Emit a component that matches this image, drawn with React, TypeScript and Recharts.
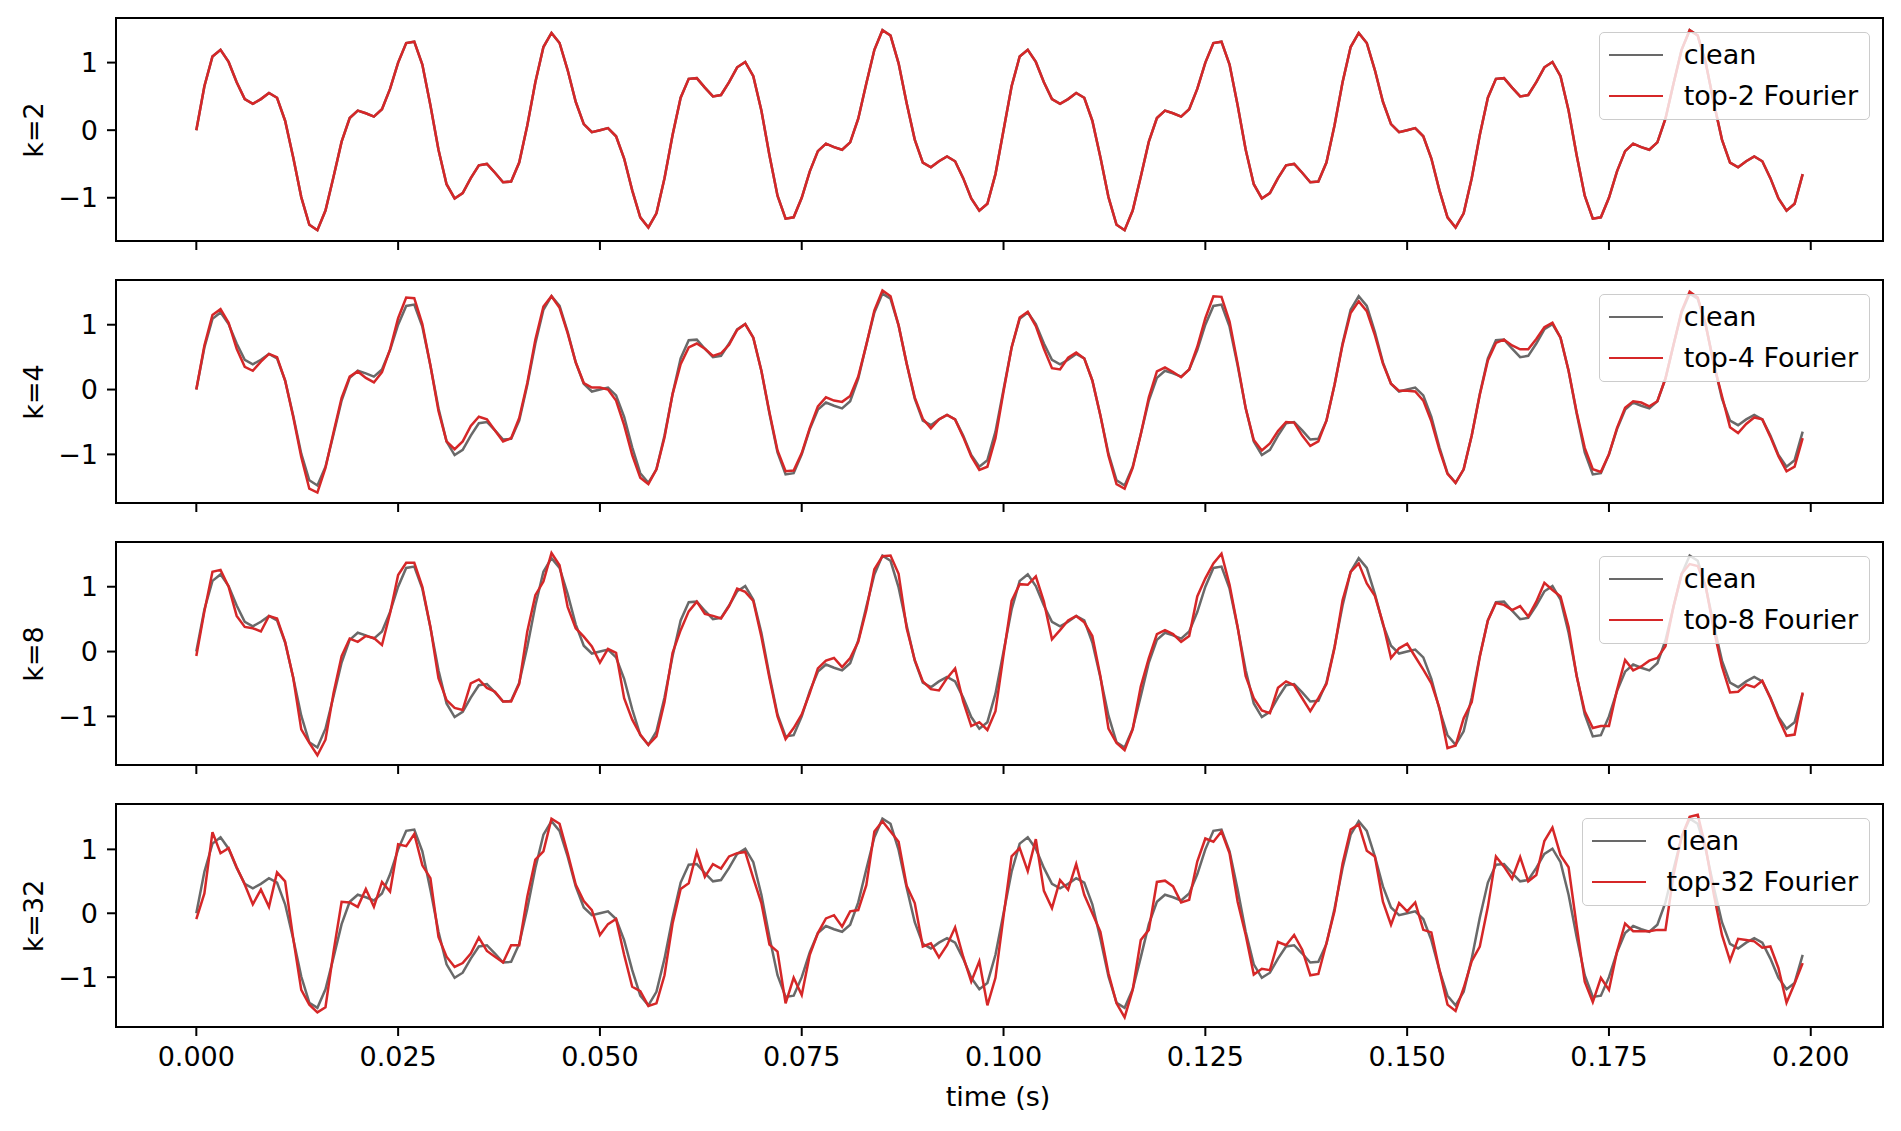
import { LineChart, Line, XAxis, YAxis } from "recharts";

// sample times (s)
const time = [
  0.000, 0.001, 0.002, 0.003, 0.004, 0.005, 0.006, 0.007, 0.008, 0.009,
  0.010, 0.011, 0.012, 0.013, 0.014, 0.015, 0.016, 0.017, 0.018, 0.019,
  0.020, 0.021, 0.022, 0.023, 0.024, 0.025, 0.026, 0.027, 0.028, 0.029,
  0.030, 0.031, 0.032, 0.033, 0.034, 0.035, 0.036, 0.037, 0.038, 0.039,
  0.040, 0.041, 0.042, 0.043, 0.044, 0.045, 0.046, 0.047, 0.048, 0.049,
  0.050, 0.051, 0.052, 0.053, 0.054, 0.055, 0.056, 0.057, 0.058, 0.059,
  0.060, 0.061, 0.062, 0.063, 0.064, 0.065, 0.066, 0.067, 0.068, 0.069,
  0.070, 0.071, 0.072, 0.073, 0.074, 0.075, 0.076, 0.077, 0.078, 0.079,
  0.080, 0.081, 0.082, 0.083, 0.084, 0.085, 0.086, 0.087, 0.088, 0.089,
  0.090, 0.091, 0.092, 0.093, 0.094, 0.095, 0.096, 0.097, 0.098, 0.099,
  0.100, 0.101, 0.102, 0.103, 0.104, 0.105, 0.106, 0.107, 0.108, 0.109,
  0.110, 0.111, 0.112, 0.113, 0.114, 0.115, 0.116, 0.117, 0.118, 0.119,
  0.120, 0.121, 0.122, 0.123, 0.124, 0.125, 0.126, 0.127, 0.128, 0.129,
  0.130, 0.131, 0.132, 0.133, 0.134, 0.135, 0.136, 0.137, 0.138, 0.139,
  0.140, 0.141, 0.142, 0.143, 0.144, 0.145, 0.146, 0.147, 0.148, 0.149,
  0.150, 0.151, 0.152, 0.153, 0.154, 0.155, 0.156, 0.157, 0.158, 0.159,
  0.160, 0.161, 0.162, 0.163, 0.164, 0.165, 0.166, 0.167, 0.168, 0.169,
  0.170, 0.171, 0.172, 0.173, 0.174, 0.175, 0.176, 0.177, 0.178, 0.179,
  0.180, 0.181, 0.182, 0.183, 0.184, 0.185, 0.186, 0.187, 0.188, 0.189,
  0.190, 0.191, 0.192, 0.193, 0.194, 0.195, 0.196, 0.197, 0.198, 0.199,
];

const clean = [
  0.00, 0.65, 1.09, 1.19, 1.01, 0.71, 0.46, 0.39, 0.46, 0.55,
  0.48, 0.14, -0.40, -0.99, -1.40, -1.48, -1.19, -0.69, -0.17, 0.18,
  0.29, 0.25, 0.20, 0.31, 0.61, 1.00, 1.29, 1.31, 0.97, 0.37,
  -0.29, -0.80, -1.01, -0.93, -0.71, -0.52, -0.50, -0.63, -0.77, -0.76,
  -0.48, 0.07, 0.71, 1.23, 1.44, 1.29, 0.89, 0.42, 0.09, -0.03,
  0.00, 0.03, -0.09, -0.42, -0.89, -1.29, -1.44, -1.23, -0.71, -0.07,
  0.48, 0.76, 0.77, 0.63, 0.50, 0.52, 0.71, 0.93, 1.01, 0.80,
  0.29, -0.37, -0.97, -1.31, -1.29, -1.00, -0.61, -0.31, -0.20, -0.25,
  -0.29, -0.18, 0.17, 0.69, 1.19, 1.48, 1.40, 0.99, 0.40, -0.14,
  -0.48, -0.55, -0.46, -0.39, -0.46, -0.71, -1.01, -1.19, -1.09, -0.65,
  0.00, 0.65, 1.09, 1.19, 1.01, 0.71, 0.46, 0.39, 0.46, 0.55,
  0.48, 0.14, -0.40, -0.99, -1.40, -1.48, -1.19, -0.69, -0.17, 0.18,
  0.29, 0.25, 0.20, 0.31, 0.61, 1.00, 1.29, 1.31, 0.97, 0.37,
  -0.29, -0.80, -1.01, -0.93, -0.71, -0.52, -0.50, -0.63, -0.77, -0.76,
  -0.48, 0.07, 0.71, 1.23, 1.44, 1.29, 0.89, 0.42, 0.09, -0.03,
  0.00, 0.03, -0.09, -0.42, -0.89, -1.29, -1.44, -1.23, -0.71, -0.07,
  0.48, 0.76, 0.77, 0.63, 0.50, 0.52, 0.71, 0.93, 1.01, 0.80,
  0.29, -0.37, -0.97, -1.31, -1.29, -1.00, -0.61, -0.31, -0.20, -0.25,
  -0.29, -0.18, 0.17, 0.69, 1.19, 1.48, 1.40, 0.99, 0.40, -0.14,
  -0.48, -0.55, -0.46, -0.39, -0.46, -0.71, -1.01, -1.19, -1.09, -0.65,
];

// top-2 reconstruction sits on the clean curve at this resolution
const top2 = clean;

const top4 = [
  0.00, 0.68, 1.15, 1.24, 1.03, 0.63, 0.35, 0.29, 0.43, 0.55,
  0.50, 0.14, -0.42, -1.04, -1.53, -1.59, -1.21, -0.66, -0.13, 0.20,
  0.28, 0.18, 0.11, 0.27, 0.62, 1.10, 1.42, 1.41, 1.01, 0.37,
  -0.33, -0.80, -0.92, -0.80, -0.56, -0.42, -0.46, -0.63, -0.80, -0.75,
  -0.44, 0.10, 0.77, 1.28, 1.44, 1.26, 0.87, 0.42, 0.10, 0.03,
  0.03, 0.00, -0.17, -0.55, -1.01, -1.36, -1.46, -1.23, -0.74, -0.07,
  0.39, 0.65, 0.71, 0.63, 0.52, 0.56, 0.69, 0.92, 1.01, 0.80,
  0.29, -0.35, -0.94, -1.26, -1.25, -0.98, -0.59, -0.26, -0.12, -0.17,
  -0.19, -0.10, 0.20, 0.69, 1.22, 1.53, 1.44, 0.99, 0.40, -0.12,
  -0.45, -0.60, -0.46, -0.39, -0.46, -0.73, -1.03, -1.24, -1.19, -0.75,
  -0.03, 0.65, 1.11, 1.20, 0.98, 0.63, 0.33, 0.31, 0.49, 0.57,
  0.48, 0.14, -0.40, -1.02, -1.46, -1.53, -1.21, -0.69, -0.12, 0.28,
  0.34, 0.27, 0.19, 0.31, 0.66, 1.10, 1.44, 1.43, 1.05, 0.40,
  -0.29, -0.78, -0.94, -0.83, -0.64, -0.50, -0.51, -0.71, -0.87, -0.80,
  -0.48, 0.07, 0.69, 1.18, 1.36, 1.21, 0.84, 0.40, 0.09, -0.02,
  -0.02, -0.03, -0.17, -0.49, -0.93, -1.30, -1.44, -1.23, -0.71, -0.08,
  0.45, 0.72, 0.77, 0.68, 0.62, 0.62, 0.78, 0.96, 1.03, 0.80,
  0.29, -0.35, -0.90, -1.23, -1.27, -1.00, -0.59, -0.28, -0.18, -0.20,
  -0.26, -0.18, 0.17, 0.69, 1.21, 1.51, 1.42, 0.99, 0.38, -0.10,
  -0.58, -0.67, -0.53, -0.43, -0.46, -0.73, -1.03, -1.26, -1.19, -0.75,
];

const top8 = [
  -0.07, 0.62, 1.23, 1.26, 1.00, 0.55, 0.38, 0.36, 0.31, 0.55,
  0.51, 0.15, -0.40, -1.20, -1.41, -1.60, -1.36, -0.64, -0.07, 0.20,
  0.15, 0.24, 0.21, 0.10, 0.59, 1.18, 1.37, 1.37, 1.00, 0.38,
  -0.41, -0.75, -0.87, -0.90, -0.49, -0.43, -0.56, -0.62, -0.77, -0.77,
  -0.50, 0.31, 0.87, 1.08, 1.52, 1.33, 0.69, 0.36, 0.23, 0.08,
  -0.17, 0.04, -0.02, -0.72, -1.05, -1.28, -1.44, -1.31, -0.78, -0.02,
  0.33, 0.62, 0.77, 0.58, 0.55, 0.51, 0.70, 0.97, 0.92, 0.78,
  0.23, -0.41, -1.00, -1.35, -1.18, -0.97, -0.64, -0.26, -0.14, -0.10,
  -0.24, -0.10, 0.15, 0.64, 1.27, 1.47, 1.48, 1.20, 0.36, -0.13,
  -0.46, -0.58, -0.60, -0.41, -0.26, -0.77, -1.15, -1.09, -1.21, -0.92,
  -0.05, 0.78, 1.04, 1.03, 1.16, 0.77, 0.19, 0.33, 0.48, 0.55,
  0.45, 0.24, -0.38, -1.19, -1.41, -1.52, -1.20, -0.54, -0.10, 0.27,
  0.33, 0.27, 0.15, 0.24, 0.85, 1.13, 1.36, 1.51, 1.03, 0.38,
  -0.38, -0.72, -0.91, -0.95, -0.56, -0.46, -0.52, -0.72, -0.92, -0.72,
  -0.50, 0.05, 0.79, 1.23, 1.36, 1.05, 0.86, 0.44, -0.10, 0.05,
  0.12, -0.08, -0.28, -0.49, -0.87, -1.49, -1.45, -1.03, -0.78, -0.08,
  0.48, 0.75, 0.72, 0.64, 0.70, 0.54, 0.77, 1.06, 0.95, 0.85,
  0.38, -0.38, -0.92, -1.18, -1.15, -1.15, -0.59, -0.13, -0.29, -0.23,
  -0.14, -0.10, 0.08, 0.70, 1.20, 1.35, 1.32, 1.00, 0.33, -0.23,
  -0.63, -0.62, -0.51, -0.55, -0.45, -0.72, -1.03, -1.30, -1.28, -0.63,
];

const top32 = [
  -0.09, 0.31, 1.27, 0.94, 1.02, 0.72, 0.45, 0.14, 0.37, 0.10,
  0.64, 0.50, -0.39, -1.20, -1.43, -1.55, -1.47, -0.60, 0.18, 0.17,
  0.10, 0.38, 0.10, 0.49, 0.34, 1.08, 1.05, 1.24, 0.75, 0.55,
  -0.37, -0.68, -0.84, -0.78, -0.63, -0.38, -0.59, -0.68, -0.77, -0.50,
  -0.50, 0.26, 0.84, 0.97, 1.48, 1.40, 0.94, 0.45, 0.19, 0.05,
  -0.34, -0.17, -0.09, -0.65, -1.15, -1.22, -1.45, -1.41, -0.97, -0.16,
  0.38, 0.47, 0.96, 0.57, 0.77, 0.70, 0.89, 0.94, 0.96, 0.55,
  0.16, -0.49, -0.60, -1.41, -1.01, -1.28, -0.65, -0.31, -0.08, -0.03,
  -0.21, 0.03, 0.05, 0.44, 1.28, 1.44, 1.28, 1.12, 0.43, 0.16,
  -0.52, -0.47, -0.69, -0.50, -0.22, -0.68, -1.07, -0.75, -1.44, -1.01,
  -0.05, 0.89, 1.02, 0.66, 1.16, 0.35, 0.08, 0.52, 0.37, 0.77,
  0.29, 0.00, -0.29, -0.94, -1.41, -1.63, -1.20, -0.42, -0.26, 0.49,
  0.51, 0.42, 0.17, 0.21, 0.81, 1.17, 1.12, 1.28, 0.94, 0.18,
  -0.34, -0.96, -0.87, -0.89, -0.45, -0.50, -0.34, -0.57, -0.97, -0.95,
  -0.47, 0.03, 0.78, 1.31, 1.39, 0.98, 0.89, 0.18, -0.18, 0.16,
  0.03, 0.17, -0.26, -0.30, -0.89, -1.43, -1.53, -1.17, -0.75, -0.52,
  0.10, 0.89, 0.73, 0.54, 0.88, 0.50, 0.60, 1.13, 1.34, 0.91,
  0.72, -0.20, -1.07, -1.39, -1.01, -1.20, -0.60, -0.16, -0.28, -0.28,
  -0.28, -0.26, -0.26, 0.60, 1.20, 1.51, 1.54, 1.02, 0.29, -0.34,
  -0.74, -0.40, -0.42, -0.44, -0.54, -0.52, -0.86, -1.40, -1.10, -0.78,
];

const xTicks = [0, 0.025, 0.05, 0.075, 0.1, 0.125, 0.15, 0.175, 0.2];
const yTicks = [-1, 0, 1];

const FONT = "'DejaVu Sans', sans-serif";
const FS = 27;
const PLOT_LEFT = 116;
const PLOT_RIGHT = 1883;
const PLOT_H = 223;
const AXIS_H = 70;
const GREY = "#696969";
const RED = "#d62728";
const LW = 2.5;

const panels = [
  { k: 2, recon: top2, top: 18, domain: [-1.64, 1.66] },
  { k: 4, recon: top4, top: 280, domain: [-1.75, 1.69] },
  { k: 8, recon: top8, top: 542, domain: [-1.75, 1.69] },
  { k: 32, recon: top32, top: 804, domain: [-1.78, 1.71] },
];

function Legend({ k }: { k: number }) {
  const row = (color: string, label: string) => (
    <div style={{ display: "flex", alignItems: "center", height: 41 }}>
      <div style={{ width: 54, height: 0, borderTop: `${LW}px solid ${color}`, marginRight: 21 }} />
      <span>{label}</span>
    </div>
  );
  return (
    <div
      style={{
        position: "absolute",
        top: 14,
        right: 1901 - PLOT_RIGHT + 13,
        border: "1.5px solid #cccccc",
        borderRadius: 5,
        background: "rgba(255,255,255,0.8)",
        padding: "1px 11px 3px 9px",
        fontFamily: FONT,
        fontSize: FS,
        color: "#000",
        lineHeight: 1,
        whiteSpace: "nowrap",
      }}
    >
      {row(GREY, "clean")}
      {row(RED, `top-${k} Fourier`)}
    </div>
  );
}

function Panel({ k, recon, top, domain, last }: any) {
  const data = time.map((t, i) => ({ t, clean: clean[i], recon: recon[i] }));
  return (
    <div style={{ position: "absolute", left: 0, top, width: 1901, height: PLOT_H + AXIS_H }}>
      <LineChart
        width={1901}
        height={PLOT_H + AXIS_H}
        data={data}
        margin={{ top: 0, right: 1901 - PLOT_RIGHT, left: 0, bottom: 0 }}
      >
        <XAxis
          dataKey="t"
          type="number"
          domain={[-0.00995, 0.20895]}
          allowDataOverflow
          ticks={xTicks}
          interval={0}
          height={AXIS_H}
          axisLine={false}
          tickLine={{ stroke: "#000", strokeWidth: 2 }}
          tickSize={9}
          tickMargin={11}
          tick={{ fill: "#000", fontSize: FS, fontFamily: FONT }}
          tickFormatter={(v: number) => (last ? v.toFixed(3) : "")}
        />
        <YAxis
          type="number"
          domain={domain}
          allowDataOverflow
          ticks={yTicks}
          interval={0}
          width={PLOT_LEFT}
          axisLine={false}
          tickLine={{ stroke: "#000", strokeWidth: 2 }}
          tickSize={9}
          tickMargin={9}
          tick={{ fill: "#000", fontSize: FS, fontFamily: FONT }}
          tickFormatter={(v: number) => (v < 0 ? `\u2212${-v}` : `${v}`)}
        />
        <Line
          type="linear"
          dataKey="clean"
          stroke={GREY}
          strokeWidth={LW}
          dot={false}
          isAnimationActive={false}
        />
        <Line
          type="linear"
          dataKey="recon"
          stroke={RED}
          strokeWidth={LW}
          dot={false}
          isAnimationActive={false}
        />
      </LineChart>
      <div
        style={{
          position: "absolute",
          left: PLOT_LEFT - 1,
          top: -1,
          width: PLOT_RIGHT - PLOT_LEFT + 2,
          height: PLOT_H + 2,
          border: "2px solid #000",
          boxSizing: "border-box",
          pointerEvents: "none",
        }}
      />
      <Legend k={k} />
      <div
        style={{
          position: "absolute",
          left: 33,
          top: PLOT_H / 2,
          transform: "translate(-50%, -50%) rotate(-90deg)",
          fontFamily: FONT,
          fontSize: FS,
          whiteSpace: "nowrap",
          lineHeight: 1,
        }}
      >
        k={k}
      </div>
    </div>
  );
}

export default function App() {
  return (
    <div style={{ position: "absolute", left: 0, top: 0, width: 1901, height: 1131, background: "#fff" }}>
      {panels.map((p, i) => (
        <Panel key={p.k} {...p} last={i === panels.length - 1} />
      ))}
      <div
        style={{
          position: "absolute",
          left: 998,
          top: 1096,
          transform: "translate(-50%, -50%)",
          fontFamily: FONT,
          fontSize: FS,
          whiteSpace: "nowrap",
          lineHeight: 1,
        }}
      >
        time (s)
      </div>
    </div>
  );
}
